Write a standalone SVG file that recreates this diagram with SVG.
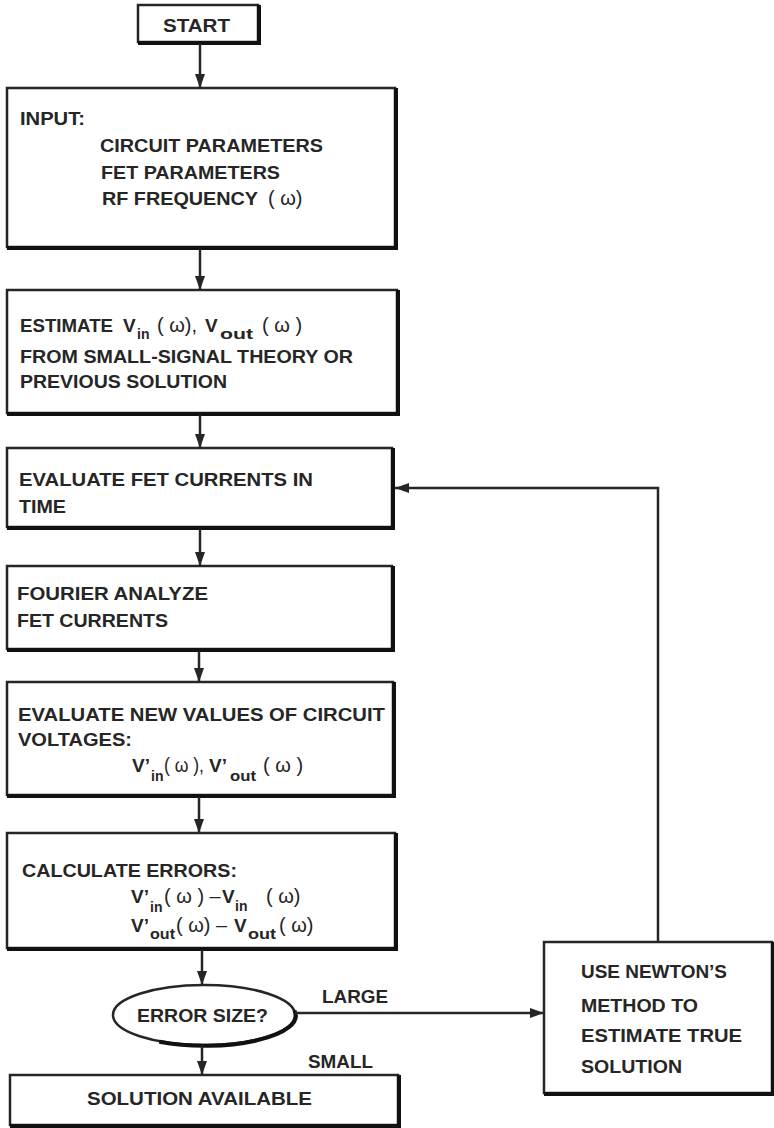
<svg xmlns="http://www.w3.org/2000/svg" width="774" height="1128" viewBox="0 0 774 1128">
  <defs>
    <marker id="arrow" markerUnits="userSpaceOnUse" markerWidth="14" markerHeight="10" refX="14" refY="5" orient="auto">
      <path d="M0,0 L14,5 L0,10 Z" fill="#262626"/>
    </marker>
    <style>
      .box { fill: #ffffff; stroke: #262626; stroke-width: 2.5; }
      .sh { fill: none; stroke: #111111; stroke-width: 4; }
      .t { font-family: "Liberation Sans", Arial, sans-serif; font-weight: bold; font-size: 19px; fill: #262626; }
      .s { font-family: "Liberation Sans", Arial, sans-serif; font-weight: bold; font-size: 14px; fill: #262626; }
      .w { font-family: "Liberation Sans", Arial, sans-serif; font-weight: normal; font-size: 20px; fill: #262626; }
      .ln { fill: none; stroke: #262626; stroke-width: 2.5; }
    </style>
  </defs>
  <rect width="774" height="1128" fill="#ffffff"/>

  <!-- START -->
  <g id="start">
    <rect class="box" x="138" y="5" width="120" height="37"/>
    <path class="sh" d="M138,43 H259 V5"/>
    <text class="t" x="163" y="32" font-size="20" textLength="67" lengthAdjust="spacingAndGlyphs">START</text>
  </g>

  <!-- INPUT -->
  <g id="input">
    <rect class="box" x="7" y="88" width="388" height="159"/>
    <path class="sh" d="M7,248 H396 V88"/>
    <text class="t" x="20" y="125" textLength="65" lengthAdjust="spacingAndGlyphs">INPUT:</text>
    <text class="t" x="100" y="152" font-size="20" textLength="223" lengthAdjust="spacingAndGlyphs">CIRCUIT PARAMETERS</text>
    <text class="t" x="101" y="179" font-size="20" textLength="179" lengthAdjust="spacingAndGlyphs">FET PARAMETERS</text>
    <text class="t" y="205" font-size="20"><tspan x="102" textLength="156" lengthAdjust="spacingAndGlyphs">RF FREQUENCY</tspan><tspan class="w" x="268">( ω)</tspan></text>
  </g>

  <!-- ESTIMATE -->
  <g id="estimate">
    <rect class="box" x="7" y="290" width="390" height="123"/>
    <path class="sh" d="M7,414 H398 V290"/>
    <text class="t" y="332"><tspan x="20" textLength="93" lengthAdjust="spacingAndGlyphs">ESTIMATE</tspan><tspan x="123">V</tspan><tspan class="s" x="137" y="339">in</tspan><tspan class="w" x="157" y="332">( ω),</tspan><tspan x="205">V</tspan><tspan class="s" x="220" y="339" textLength="33" lengthAdjust="spacingAndGlyphs">out</tspan><tspan class="w" x="262" y="332">( ω )</tspan></text>
    <text class="t" x="20" y="363" textLength="333" lengthAdjust="spacingAndGlyphs">FROM SMALL-SIGNAL THEORY OR</text>
    <text class="t" x="20" y="388" textLength="207" lengthAdjust="spacingAndGlyphs">PREVIOUS SOLUTION</text>
  </g>

  <!-- EVALUATE FET CURRENTS -->
  <g id="evaluate-currents">
    <rect class="box" x="7" y="448" width="385" height="79"/>
    <path class="sh" d="M7,528 H393 V448"/>
    <text class="t" x="19" y="486" textLength="294" lengthAdjust="spacingAndGlyphs">EVALUATE FET CURRENTS IN</text>
    <text class="t" x="19" y="513" textLength="47" lengthAdjust="spacingAndGlyphs">TIME</text>
  </g>

  <!-- FOURIER ANALYZE -->
  <g id="fourier">
    <rect class="box" x="7" y="566" width="385" height="83"/>
    <path class="sh" d="M7,650 H393 V566"/>
    <text class="t" x="17" y="600" textLength="191" lengthAdjust="spacingAndGlyphs">FOURIER ANALYZE</text>
    <text class="t" x="17" y="627" textLength="151" lengthAdjust="spacingAndGlyphs">FET CURRENTS</text>
  </g>

  <!-- EVALUATE NEW VALUES -->
  <g id="new-values">
    <rect class="box" x="7" y="682" width="386" height="113"/>
    <path class="sh" d="M7,796 H394 V682"/>
    <text class="t" x="18" y="721" textLength="367" lengthAdjust="spacingAndGlyphs">EVALUATE NEW VALUES OF CIRCUIT</text>
    <text class="t" x="18" y="746" textLength="114" lengthAdjust="spacingAndGlyphs">VOLTAGES:</text>
    <text class="t" y="772"><tspan x="132">V’</tspan><tspan class="s" x="151" y="781">in</tspan><tspan class="w" x="164" y="772" textLength="40" lengthAdjust="spacingAndGlyphs">( ω ),</tspan><tspan x="209">V’</tspan><tspan class="s" x="230" y="781" textLength="26" lengthAdjust="spacingAndGlyphs">out</tspan><tspan class="w" x="263" y="772">( ω )</tspan></text>
  </g>

  <!-- CALCULATE ERRORS -->
  <g id="calculate-errors">
    <rect class="box" x="7" y="833" width="388" height="115"/>
    <path class="sh" d="M7,949 H396 V833"/>
    <text class="t" x="22" y="877" textLength="215" lengthAdjust="spacingAndGlyphs">CALCULATE ERRORS:</text>
    <text class="t" y="903"><tspan x="131">V’</tspan><tspan class="s" x="150" y="912">in</tspan><tspan class="w" x="164" y="903">( ω ) –</tspan><tspan x="222">V</tspan><tspan class="s" x="235" y="911">in</tspan><tspan class="w" x="266" y="903">( ω)</tspan></text>
    <text class="t" y="932"><tspan x="131">V’</tspan><tspan class="s" x="150" y="939" textLength="25" lengthAdjust="spacingAndGlyphs">out</tspan><tspan class="w" x="176" y="932">( ω) –</tspan><tspan x="234">V</tspan><tspan class="s" x="248" y="939" textLength="28" lengthAdjust="spacingAndGlyphs">out</tspan><tspan class="w" x="279" y="932">( ω)</tspan></text>
  </g>

  <!-- ERROR SIZE? decision -->
  <g id="error-size">
    <ellipse cx="204" cy="1015" rx="91" ry="30" fill="#ffffff" stroke="#262626" stroke-width="2.5"/>
    <path class="sh" d="M158.5,1041 A91,30 0 0 0 293.6,1009.8" transform="translate(0.8,0.8)"/>
    <text class="t" x="137" y="1022" textLength="131" lengthAdjust="spacingAndGlyphs">ERROR SIZE?</text>
  </g>

  <!-- SOLUTION AVAILABLE -->
  <g id="solution">
    <rect class="box" x="10" y="1075" width="388" height="50"/>
    <path class="sh" d="M10,1126 H399 V1075"/>
    <text class="t" x="87" y="1105" textLength="225" lengthAdjust="spacingAndGlyphs">SOLUTION AVAILABLE</text>
  </g>

  <!-- NEWTON'S METHOD -->
  <g id="newton">
    <rect class="box" x="544" y="942" width="228" height="151"/>
    <path class="sh" d="M544,1094 H773 V942"/>
    <text class="t" x="581" y="978" textLength="146" lengthAdjust="spacingAndGlyphs">USE NEWTON’S</text>
    <text class="t" x="581" y="1012" textLength="117" lengthAdjust="spacingAndGlyphs">METHOD TO</text>
    <text class="t" x="581" y="1042" textLength="161" lengthAdjust="spacingAndGlyphs">ESTIMATE TRUE</text>
    <text class="t" x="581" y="1073" textLength="101" lengthAdjust="spacingAndGlyphs">SOLUTION</text>
  </g>

  <!-- connectors -->
  <g id="connectors">
    <line class="ln" x1="200" y1="44" x2="200" y2="88" marker-end="url(#arrow)"/>
    <line class="ln" x1="200" y1="249" x2="200" y2="290" marker-end="url(#arrow)"/>
    <line class="ln" x1="200" y1="415" x2="200" y2="448" marker-end="url(#arrow)"/>
    <line class="ln" x1="200" y1="529" x2="200" y2="566" marker-end="url(#arrow)"/>
    <line class="ln" x1="199" y1="651" x2="199" y2="682" marker-end="url(#arrow)"/>
    <line class="ln" x1="199" y1="797" x2="199" y2="833" marker-end="url(#arrow)"/>
    <line class="ln" x1="202" y1="950" x2="202" y2="985" marker-end="url(#arrow)"/>
    <line class="ln" x1="202" y1="1046" x2="202" y2="1075" marker-end="url(#arrow)"/>
    <line class="ln" x1="295" y1="1013" x2="544" y2="1013" marker-end="url(#arrow)"/>
    <path class="ln" d="M658,942 V488 H395" marker-end="url(#arrow)"/>
    <text class="t" x="322" y="1003" textLength="66" lengthAdjust="spacingAndGlyphs">LARGE</text>
    <text class="t" x="308" y="1068" textLength="65" lengthAdjust="spacingAndGlyphs">SMALL</text>
  </g>
</svg>
